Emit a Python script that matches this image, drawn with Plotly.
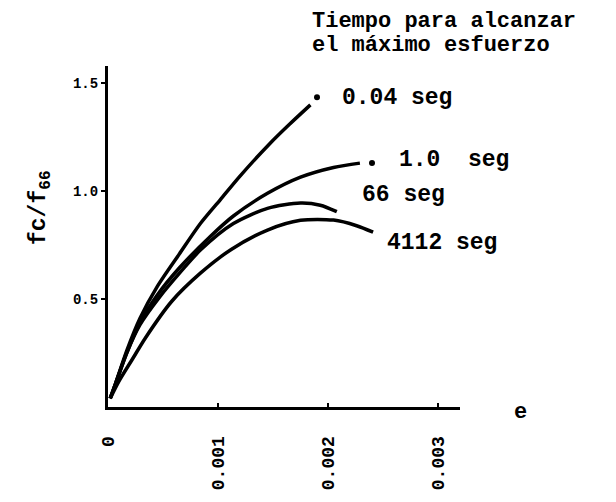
import plotly.graph_objects as go

# ---- data ----
x_004 = [0.00002, 0.00007, 0.00017, 0.00029, 0.00045, 0.00065, 0.00084, 0.00102, 0.00120, 0.00147, 0.00165, 0.00184]
y_004 = [0.04, 0.11, 0.26, 0.41, 0.56, 0.71, 0.85, 0.96, 1.07, 1.22, 1.31, 1.40]

x_10 = [0.00002, 0.00007, 0.00017, 0.00029, 0.00045, 0.00065, 0.00093, 0.00114, 0.00145, 0.00175, 0.00205, 0.00229]
y_10 = [0.04, 0.11, 0.25, 0.39, 0.52, 0.645, 0.79, 0.885, 0.99, 1.065, 1.11, 1.13]

x_66 = [0.00002, 0.00007, 0.00017, 0.00029, 0.00047, 0.00065, 0.00084, 0.00114, 0.00145, 0.00175, 0.00193, 0.00208]
y_66 = [0.04, 0.11, 0.25, 0.38, 0.51, 0.62, 0.727, 0.85, 0.92, 0.945, 0.935, 0.905]

x_4112 = [0.00002, 0.00010, 0.00022, 0.00034, 0.00058, 0.00084, 0.00112, 0.00145, 0.00175, 0.00205, 0.00226, 0.00241]
y_4112 = [0.04, 0.12, 0.22, 0.32, 0.49, 0.62, 0.73, 0.82, 0.865, 0.866, 0.84, 0.81]

end_dots_x = [0.0019, 0.0024]
end_dots_y = [1.435, 1.13]

x_ticks = [0, 0.001, 0.002, 0.003]
x_ticktext = ["0", "0.001", "0.002", "0.003"]
y_ticks = [0.5, 1.0, 1.5]
y_ticktext = ["0.5", "1.0", "1.5"]

curve_labels = ["0.04 seg", "1.0  seg", "66 seg", "4112 seg"]
title_lines = ["Tiempo para alcanzar", "el máximo esfuerzo"]

FONT = "Liberation Mono"

# ---- layout geometry (page body has an 8px margin) ----
OFF = 8
W, H = 616 - OFF, 502 - OFF
L, R, T, B = 108 - OFF, 156, 66 - OFF, 95
PW, PH = W - L - R, H - T - B


def px(xp, yp):
    # reference-window pixel -> paper coordinates
    xp -= OFF
    yp -= OFF
    return (xp - L) / PW, (H - B - yp) / PH


fig = go.Figure()
for xs, ys in [(x_004, y_004), (x_10, y_10), (x_66, y_66), (x_4112, y_4112)]:
    fig.add_trace(go.Scatter(x=xs, y=ys, mode="lines",
                             line=dict(color="black", width=3.5, shape="spline", smoothing=0.8),
                             showlegend=False, hoverinfo="skip"))
fig.add_trace(go.Scatter(x=end_dots_x, y=end_dots_y, mode="markers",
                         marker=dict(color="black", size=6), showlegend=False, hoverinfo="skip"))

annots = []


def add_text(text, xp, yp, size, anchor="left", angle=0, yanchor="middle"):
    ax, ay = px(xp, yp)
    annots.append(dict(text=text, x=ax, y=ay, xref="paper", yref="paper",
                       xanchor=anchor, yanchor=yanchor, showarrow=False, textangle=angle,
                       borderpad=0,
                       font=dict(family=FONT, size=size, color="black")))


add_text("<b>" + title_lines[0] + "</b>", 311, 8, 22, yanchor="top")
add_text("<b>" + title_lines[1] + "</b>", 311, 45, 22)
add_text("<b>" + curve_labels[0] + "</b>", 341, 98, 23)
add_text("<b>" + curve_labels[1] + "</b>", 398, 160, 23)
add_text("<b>" + curve_labels[2] + "</b>", 361, 195, 23)
add_text("<b>" + curve_labels[3] + "</b>", 386, 243, 23)
add_text("<b>e</b>", 513, 412, 22)
add_text("<b>fc/f<sub>66</sub></b>", 40, 208, 23, anchor="center", angle=-90)

fig.update_layout(
    width=W, height=H,
    margin=dict(l=L, r=R, t=T, b=B),
    paper_bgcolor="white", plot_bgcolor="white",
    annotations=annots,
    xaxis=dict(range=[0, 0.0032], showgrid=False, zeroline=False,
               showline=True, linecolor="black", linewidth=3,
               tickvals=x_ticks, ticktext=x_ticktext, tickangle=-90,
               ticks="inside", ticklen=4, tickwidth=2, tickcolor="black",
               ticklabelstandoff=19,
               tickfont=dict(family=FONT, size=18, color="black", weight="bold")),
    yaxis=dict(range=[0, 1.58], showgrid=False, zeroline=False,
               showline=True, linecolor="black", linewidth=3,
               tickvals=y_ticks, ticktext=y_ticktext,
               ticks="outside", ticklen=4, tickwidth=2, tickcolor="black",
               tickfont=dict(family=FONT, size=14, color="black", weight="bold")),
)

fig.write_html("out.html")
